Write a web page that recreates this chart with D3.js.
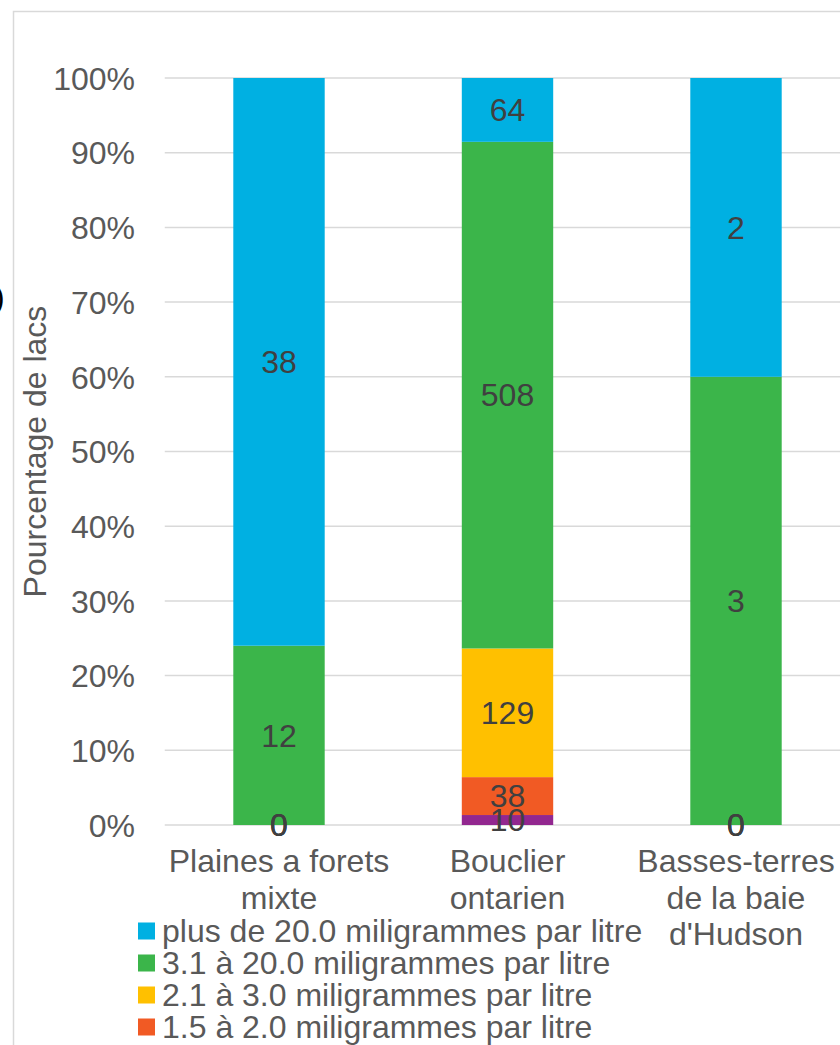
<!DOCTYPE html>
<html>
<head>
<meta charset="utf-8">
<script src="https://cdn.jsdelivr.net/npm/d3@7"></script>
<style>
  html, body { margin: 0; padding: 0; background: #fff; overflow: hidden; }
  svg { display: block; font-family: "Liberation Sans", Arial, sans-serif; }
</style>
</head>
<body>
<svg id="chart" width="840" height="1045"></svg>
<script>
// Lake counts by ecozone and concentration class
const categories = [
  ["Plaines a forets", "mixte"],
  ["Bouclier", "ontarien"],
  ["Basses-terres", "de la baie", "d'Hudson"]
];
const seriesNames = [
  "moins de 1.5 miligrammes par litre",
  "1.5 à 2.0 miligrammes par litre",
  "2.1 à 3.0 miligrammes par litre",
  "3.1 à 20.0 miligrammes par litre",
  "plus de 20.0 miligrammes par litre"
];
const seriesColors = ["#92278F", "#F15A24", "#FFC000", "#3BB54A", "#00B0E2"];
const lessThan15 = [0, 10, 0];
const from15to20 = [0, 38, 0];
const from21to30 = [0, 129, 0];
const from31to200 = [12, 508, 3];
const over200 = [38, 64, 2];
const yTicks = [0, 10, 20, 30, 40, 50, 60, 70, 80, 90, 100];
const legendOrder = [4, 3, 2, 1, 0];

const seriesValues = [lessThan15, from15to20, from21to30, from31to200, over200];
const FS = 32;

const svg = d3.select("#chart");

// Outer frame of the chart object
svg.append("rect")
  .attr("x", 13.5).attr("y", 11.5)
  .attr("width", 900).attr("height", 1100)
  .attr("fill", "#fff").attr("stroke", "#D9D9D9").attr("stroke-width", 1.5);

// Fragment of a neighbouring element at the left edge
svg.append("text").attr("x", -6).attr("y", 308)
  .attr("font-size", FS).attr("fill", "#000").text(")");

const plot = { left: 164.75, right: 850.25, top: 78, bottom: 825 };

const x = d3.scaleBand()
  .domain(d3.range(categories.length))
  .range([plot.left, plot.right])
  .paddingInner(0.6).paddingOuter(0.3);

const y = d3.scaleLinear().domain([0, 100]).range([plot.bottom, plot.top]);

// Gridlines
svg.append("g").selectAll("line").data(yTicks).join("line")
  .attr("x1", plot.left).attr("x2", plot.right)
  .attr("y1", d => y(d)).attr("y2", d => y(d))
  .attr("stroke", "#D9D9D9").attr("stroke-width", 1.5);

// Y axis labels
const yAxis = d3.axisLeft(y).tickValues(yTicks).tickFormat(d => d + "%").tickSize(0).tickPadding(0);
const yg = svg.append("g").attr("transform", `translate(135,0)`).call(yAxis);
yg.select(".domain").remove();
yg.selectAll("text")
  .attr("font-size", FS).attr("fill", "#595959")
  .attr("font-family", "Liberation Sans, Arial, sans-serif")
  .attr("dy", "0.35em");

// Y axis title
svg.append("text")
  .attr("transform", `translate(46,${(plot.top + plot.bottom) / 2}) rotate(-90)`)
  .attr("text-anchor", "middle")
  .attr("font-size", FS).attr("fill", "#595959")
  .text("Pourcentage de lacs");

// Stack the percentages
const totals = categories.map((c, i) => d3.sum(seriesValues, s => s[i]));
const segments = [];
categories.forEach((c, i) => {
  let acc = 0;
  seriesValues.forEach((s, k) => {
    const pct = s[i] / totals[i] * 100;
    segments.push({ cat: i, series: k, value: s[i], y0: acc, y1: acc + pct });
    acc += pct;
  });
});

svg.append("g").selectAll("rect").data(segments.filter(d => d.value > 0)).join("rect")
  .attr("x", d => x(d.cat))
  .attr("width", x.bandwidth())
  .attr("y", d => y(d.y1))
  .attr("height", d => y(d.y0) - y(d.y1))
  .attr("fill", d => seriesColors[d.series]);

// Value labels at segment centres
svg.append("g").selectAll("text").data(segments).join("text")
  .attr("x", d => x(d.cat) + x.bandwidth() / 2)
  .attr("y", d => y((d.y0 + d.y1) / 2))
  .attr("dy", "0.35em")
  .attr("text-anchor", "middle")
  .attr("font-size", FS).attr("fill", "#404040")
  .text(d => d.value);

// Category labels
const catG = svg.append("g");
categories.forEach((lines, i) => {
  const t = catG.append("text")
    .attr("x", x(i) + x.bandwidth() / 2)
    .attr("y", 872)
    .attr("text-anchor", "middle")
    .attr("font-size", FS).attr("fill", "#595959");
  lines.forEach((ln, j) => {
    t.append("tspan").attr("x", x(i) + x.bandwidth() / 2)
      .attr("dy", j === 0 ? 0 : 36.5).text(ln);
  });
});

// Legend
const leg = svg.append("g").selectAll("g").data(legendOrder).join("g")
  .attr("transform", (d, j) => `translate(138,${931 + j * 32})`);
leg.append("rect").attr("x", 0).attr("y", -8.5).attr("width", 17).attr("height", 17)
  .attr("fill", d => seriesColors[d]);
leg.append("text").attr("x", 24).attr("dy", "0.35em")
  .attr("font-size", FS).attr("fill", "#595959")
  .text(d => seriesNames[d]);
</script>
</body>
</html>
